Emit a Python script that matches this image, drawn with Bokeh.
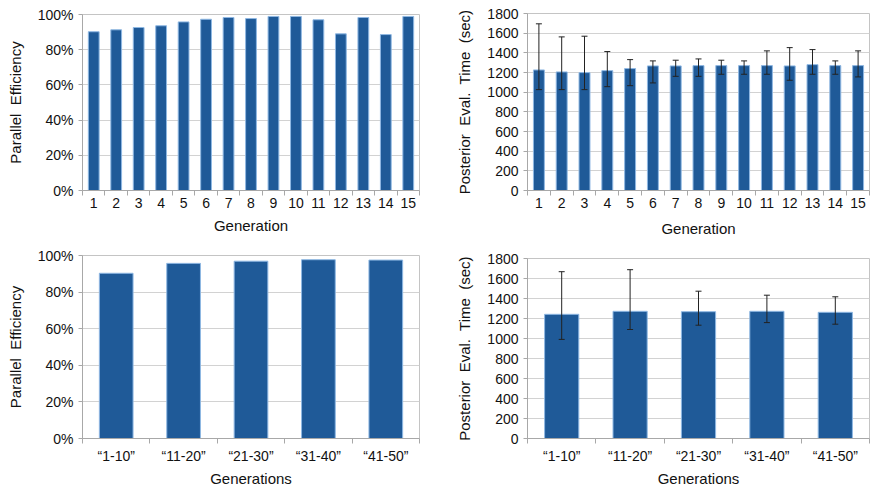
from bokeh.plotting import figure
from bokeh.models import (ColumnDataSource, FixedTicker, PrintfTickFormatter,
                          Whisker, TeeHead, Range1d)
from bokeh.layouts import column, row
from bokeh.embed import file_html
from bokeh.resources import INLINE

# ---- data ----
generations = list(range(1, 16))
efficiency_gen = [90.2, 91.3, 92.6, 93.6, 95.8, 97.3, 98.3, 97.7, 98.9, 98.9,
                  97.0, 89.0, 98.3, 88.6, 98.9]
time_gen = [1226, 1206, 1199, 1219, 1240, 1267, 1267, 1270, 1270, 1270,
            1270, 1267, 1280, 1270, 1270]
time_gen_upper = [1695, 1562, 1569, 1413, 1331, 1318, 1325, 1338, 1325, 1318,
                  1420, 1453, 1433, 1318, 1420]
time_gen_lower = [1026, 1026, 1026, 1056, 1066, 1094, 1161, 1161, 1182, 1182,
                  1182, 1121, 1182, 1182, 1155]

groups = ["\u201c1-10\u201d", "\u201c11-20\u201d", "\u201c21-30\u201d",
          "\u201c31-40\u201d", "\u201c41-50\u201d"]
efficiency_grp = [90.3, 95.7, 96.9, 97.7, 97.5]
time_grp = [1242, 1272, 1268, 1272, 1262]
time_grp_upper = [1668, 1688, 1473, 1433, 1417]
time_grp_lower = [991, 1090, 1133, 1159, 1143]

FONT = "Liberation Sans"
BAR_FILL = "#1f5a98"
BAR_LINE = "#8fb8e3"
TEXT = "#111111"
AXIS = "#a8a8a8"
GRID = "#d2d2d2"


def make(width, height, labels, values, ymax, ystep, ylabel, xlabel, pct,
         mb_left, mb_right, mb_top, mb_bottom, bar_w,
         upper=None, lower=None, tick_std=5, lab_std=10):
    n = len(labels)
    xs = list(range(1, n + 1))
    p = figure(width=width, height=height, output_backend="svg",
               toolbar_location=None, title=None,
               x_range=Range1d(0.5, n + 0.5), y_range=Range1d(0, ymax),
               min_border_left=mb_left, min_border_right=mb_right,
               min_border_top=mb_top, min_border_bottom=mb_bottom)
    src = ColumnDataSource(dict(x=xs, top=values))
    p.vbar(x="x", top="top", width=bar_w, source=src, fill_color=BAR_FILL,
           line_color=BAR_LINE, line_width=1)
    if upper is not None:
        esrc = ColumnDataSource(dict(x=xs, upper=upper, lower=lower))
        w = Whisker(source=esrc, base="x", upper="upper", lower="lower",
                    line_color="#222222", line_width=1, level="overlay",
                    upper_head=TeeHead(size=6, line_color="#222222", line_width=1),
                    lower_head=TeeHead(size=6, line_color="#222222", line_width=1))
        p.add_layout(w)

    # x axis
    xa = p.xaxis[0]
    xa.ticker = FixedTicker(ticks=xs, minor_ticks=[i + 0.5 for i in range(0, n + 1)])
    xa.major_label_overrides = {i: str(l) for i, l in zip(xs, labels)}
    xa.major_tick_line_color = None
    xa.major_tick_out = 0
    xa.major_tick_in = 0
    xa.minor_tick_line_color = AXIS
    xa.minor_tick_out = 5
    xa.minor_tick_in = 0
    xa.axis_line_color = AXIS
    xa.major_label_text_font = FONT
    xa.major_label_text_font_size = "14px"
    xa.major_label_text_color = TEXT
    xa.major_label_standoff = tick_std
    xa.axis_label = xlabel
    xa.axis_label_text_font = FONT
    xa.axis_label_text_font_size = "15px"
    xa.axis_label_text_font_style = "normal"
    xa.axis_label_text_color = TEXT
    xa.axis_label_standoff = lab_std

    # y axis
    ya = p.yaxis[0]
    ya.ticker = FixedTicker(ticks=list(range(0, ymax + 1, ystep)))
    if pct:
        ya.formatter = PrintfTickFormatter(format="%d%%")
    ya.axis_line_color = AXIS
    ya.major_tick_line_color = AXIS
    ya.major_tick_out = 4
    ya.major_tick_in = 0
    ya.minor_tick_line_color = None
    ya.major_label_text_font = FONT
    ya.major_label_text_font_size = "14px"
    ya.major_label_text_color = TEXT
    ya.major_label_standoff = 5
    ya.axis_label = ylabel
    ya.axis_label_text_font = FONT
    ya.axis_label_text_font_size = "15px"
    ya.axis_label_text_font_style = "normal"
    ya.axis_label_text_color = TEXT
    ya.axis_label_standoff = 11

    p.xgrid.grid_line_color = None
    p.ygrid.grid_line_color = GRID
    p.ygrid.grid_line_width = 1
    p.outline_line_color = "#c4c4c4"
    p.background_fill_color = "white"
    p.border_fill_color = "white"
    return p


p1 = make(435, 241, generations, efficiency_gen, 100, 20,
          "Parallel\u00a0 Efficiency", "Generation", True,
          81, 16, 14, 51, 0.48, tick_std=2, lab_std=6)
p3 = make(435, 248, groups, efficiency_grp, 100, 20,
          "Parallel\u00a0 Efficiency", "Generations", True,
          82, 12, 14, 50, 0.5, tick_std=4, lab_std=3)
p2 = make(435, 245, generations, time_gen, 1800, 200,
          "Posterior\u00a0 Eval.\u00a0 Time\u00a0 (sec)", "Generation", False,
          89, 1, 13, 55, 0.48, upper=time_gen_upper, lower=time_gen_lower,
          tick_std=2, lab_std=9)
p4 = make(435, 244, groups, time_grp, 1800, 200,
          "Posterior\u00a0 Eval.\u00a0 Time\u00a0 (sec)", "Generations", False,
          92, 1, 13, 50, 0.5, upper=time_grp_upper, lower=time_grp_lower,
          tick_std=4, lab_std=3)

layout = row(column(p1, p3), column(p2, p4))
open("out.html", "w").write(file_html(layout, INLINE))
